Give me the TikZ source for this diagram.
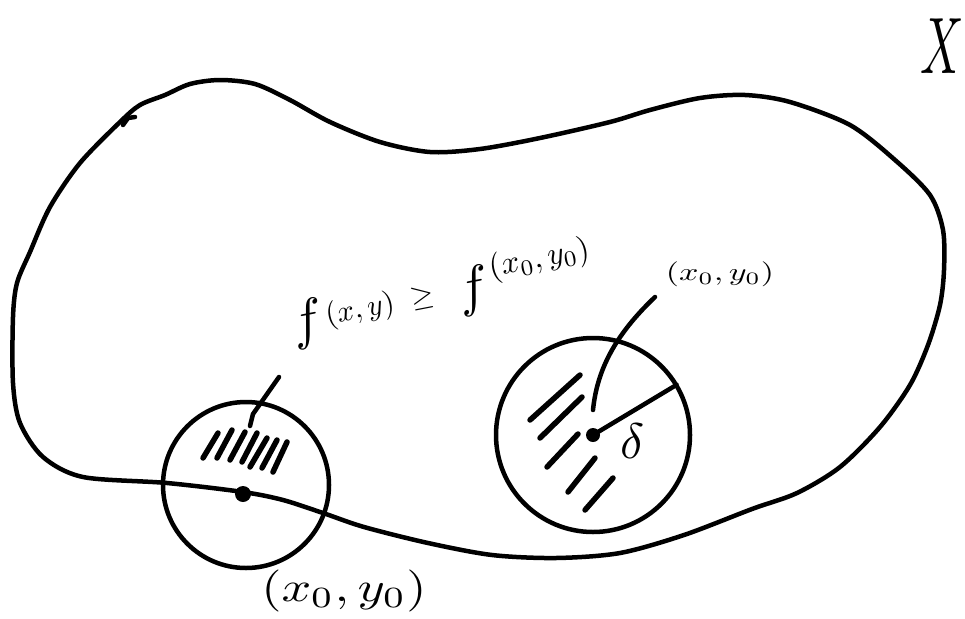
\documentclass[tikz,border=0pt]{standalone}
\usepackage{graphicx}
\begin{document}
\begin{tikzpicture}[x=1pt,y=-1pt,
  pen/.style={line width=4.5pt, line cap=round, line join=round},
  hatch/.style={line width=5.5pt, line cap=round},
  lbl/.style={inner sep=0pt, outer sep=0pt}]
\useasboundingbox (0,0) rectangle (965,618);
% region X
\draw[pen] plot[smooth cycle, tension=0.5] coordinates {
(120,122) (140,105) (165,95) (190,84) (220,80) (255,84) (290,100) (330,122)
(380,142) (430,152) (480,149) (540,138) (610,122) (650,110) (700,98) (745,95)
(790,102) (850,125) (895,160) (930,195) (943,230) (944,270) (940,305) (928,345)
(910,385) (880,427) (840,467) (797,493) (752,509) (684,535) (620,553) (556,558)
(492,555) (428,543) (364,527) (323,513) (283,500) (243,492) (167,483) (83,477)
(43,457) (20,423) (13,383) (13,317) (17,283) (30,252) (50,207) (80,163)};
\draw[pen] (123,125) -- (128,118) -- (135,117);
% X label
\node[lbl, xscale=4.8, yscale=8] (Xl) at (942,46) {$X$};
% left disc
\coordinate (lc) at (246,485);
\coordinate (ldot) at (243,494);
\draw[pen] (lc) circle[radius=83pt];
\fill (ldot) circle[radius=8pt];
\foreach \a/\b/\c/\d in {203/458/218/433, 217/458/232/430, 230/460/245/432,
  242/462/257/433, 250/467/267/438, 262/468/277/440, 273/472/287/442}
  \draw[hatch] (\a,\b) -- (\c,\d);
% right disc
\coordinate (rc) at (593,435);
\coordinate (redge) at (676.6,384.8);
\draw[pen] (rc) circle[radius=97pt];
\fill (rc) circle[radius=7pt];
\draw[pen] (rc) -- (redge);
\foreach \a/\b/\c/\d in {530/420/580/375, 540/438/582/397, 547/467/578/434,
  568/492/595/458, 585/510/613/478}
  \draw[hatch] (\a,\b) -- (\c,\d);
\node[lbl, scale=5] (delta) at (633,441) {$\delta$};
% top label
\node[lbl, anchor=base west, rotate=11] (flbl) at (294,340)
 {\scalebox{5.5}{$f$}\hspace{3pt}\raisebox{9pt}{\scalebox{3}{$(x,y)\;\geq$}}\hspace{24pt}\scalebox{5.5}{$f$}\hspace{3pt}\raisebox{24pt}{\scalebox{3.2}{$(x_0,y_0)$}}};
\coordinate (lh) at (250,426);
\coordinate (lt) at (279,377);
\draw[pen] (lh) -- (253,414) -- (lt);
% right label
\node[lbl, xscale=3.4, yscale=2.5] (rlbl) at (720,274) {$(x_0,y_0)$};
\coordinate (rh) at (593,410);
\coordinate (rt) at (655,297);
\draw[pen] (rh) .. controls (597,370) and (615,335) .. (rt);
% bottom label
\node[lbl, xscale=5.2, yscale=4.2] (blbl) at (344,591) {$(x_0,y_0)$};
\end{tikzpicture}
\end{document}
